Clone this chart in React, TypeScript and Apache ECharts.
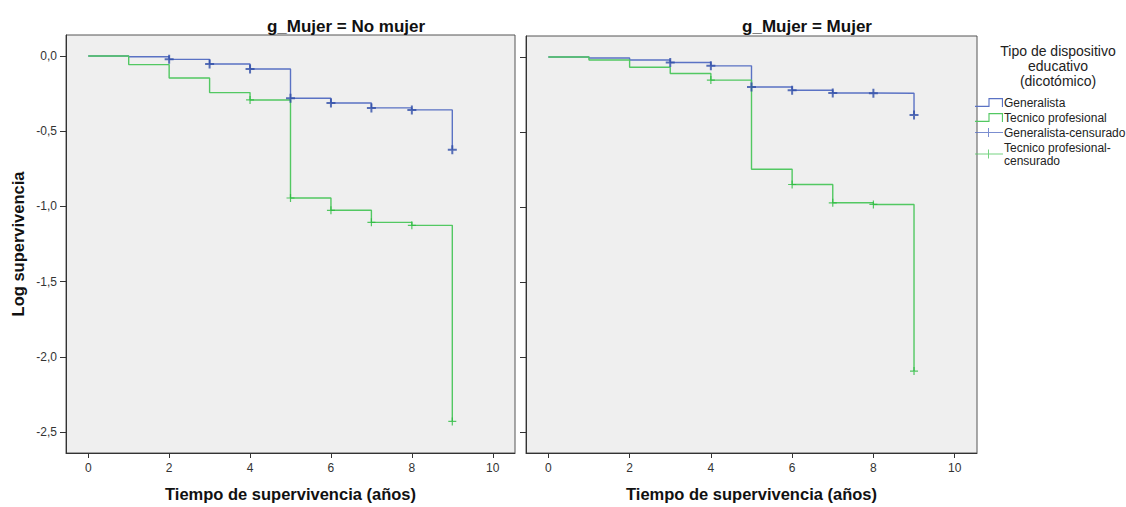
import React, { useEffect, useRef } from "react";
import * as echarts from "echarts";

// ---- data ----
const times = [0, 1, 2, 3, 4, 5, 6, 7, 8, 9];
const leftGeneralista = [0, -0.005, -0.022, -0.053, -0.086, -0.281, -0.312, -0.345, -0.358, -0.624];
const leftTecnico = [0, -0.057, -0.146, -0.243, -0.292, -0.944, -1.026, -1.106, -1.126, -2.43];
const rightGeneralista = [0, -0.007, -0.02, -0.037, -0.059, -0.2, -0.222, -0.24, -0.242, -0.387];
const rightTecnico = [0, -0.02, -0.068, -0.11, -0.154, -0.748, -0.85, -0.972, -0.983, -2.094];

const leftGenCensorTimes = [2, 3, 4, 5, 6, 7, 8, 9];
const leftTecCensorTimes = [4, 5, 6, 7, 8, 9];
const rightGenCensorTimes = [3, 4, 5, 6, 7, 8, 9];
const rightTecCensorTimes = [4, 6, 7, 8, 9];

const xTicks = [0, 2, 4, 6, 8, 10];
const yTicks = [0, -0.5, -1, -1.5, -2, -2.5];

const panelTitles = ["g_Mujer = No mujer", "g_Mujer = Mujer"];
const seriesNames = ["Generalista", "Tecnico profesional", "Generalista-censurado", "Tecnico profesional-censurado"];
const legendTitle = "Tipo de dispositivo\neducativo\n(dicotómico)";
const xTitle = "Tiempo de supervivencia (años)";
const yTitle = "Log supervivencia";

const BLUE_LINE = "#5a72c4";
const BLUE_MARK = "#2f4ea8";
const GREEN_LINE = "#52c862";
const GREEN_MARK = "#2bbb3f";

const FONT = "'Liberation Sans', Arial, sans-serif";

const plusBlue = "path://M3.5,0H5.5V3.5H9V5.5H5.5V9H3.5V5.5H0V3.5H3.5Z";
const plusGreen = "path://M3.4,0H4.6V3.4H8V4.6H4.6V8H3.4V4.6H0V3.4H3.4Z";
const stepIcon = "path://M0,7H12V0H25V8H24V1H13V8H0Z";
const plusIcon = "path://M0,4H28V5H0Z M13,0H14V9H13Z";

const line = (vals: number[]) => times.map((t, i) => [t, vals[i]]);
const censor = (cts: number[], vals: number[]) => cts.map((t) => [t, vals[times.indexOf(t)]]);

export default function App() {
  const ref = useRef<HTMLDivElement>(null);
  useEffect(() => {
    if (!ref.current) return;
    const chart = echarts.init(ref.current, undefined, { renderer: "svg" });
    const fmt = (v: number) => v.toFixed(1).replace(".", ",");
    const grids = [
      { left: 66, top: 35, width: 449, height: 419 },
      { left: 526, top: 36, width: 451, height: 420 },
    ];
    const xAxis = grids.map((_, i) => ({
      type: "value",
      gridIndex: i,
      min: -0.55,
      max: 10.55,
      name: xTitle,
      nameLocation: "middle",
      nameGap: 32,
      nameTextStyle: { fontFamily: FONT, fontSize: 16.5, fontWeight: "bold", color: "#111" },
      axisLine: { show: true, onZero: false, lineStyle: { color: "#333", width: 1 } },
      axisTick: { show: true, length: 5, customValues: xTicks, lineStyle: { color: "#333" } },
      axisLabel: { show: true, customValues: xTicks, margin: 9, fontFamily: FONT, fontSize: 12, color: "#333" },
      splitLine: { show: false },
    }));
    const yAxis = grids.map((_, i) => ({
      type: "value",
      gridIndex: i,
      min: -2.64,
      max: 0.14,
      name: i === 0 ? yTitle : "",
      nameLocation: "middle",
      nameRotate: 90,
      nameGap: 40,
      nameTextStyle: { fontFamily: FONT, fontSize: 16.5, fontWeight: "bold", color: "#111" },
      axisLine: { show: true, onZero: false, lineStyle: { color: "#333", width: 1 } },
      axisTick: { show: true, length: 6, customValues: yTicks, lineStyle: { color: "#333" } },
      axisLabel: {
        show: i === 0,
        customValues: yTicks,
        margin: 9,
        fontFamily: FONT,
        fontSize: 12,
        color: "#333",
        formatter: (v: number) => fmt(v),
      },
      splitLine: { show: false },
    }));
    const panels = [
      { gen: leftGeneralista, tec: leftTecnico, genC: leftGenCensorTimes, tecC: leftTecCensorTimes },
      { gen: rightGeneralista, tec: rightTecnico, genC: rightGenCensorTimes, tecC: rightTecCensorTimes },
    ];
    const series: any[] = [];
    panels.forEach((p, i) => {
      series.push({
        name: seriesNames[0], type: "line", step: "end", xAxisIndex: i, yAxisIndex: i,
        data: line(p.gen), showSymbol: false, color: BLUE_LINE,
        lineStyle: { color: BLUE_LINE, width: 1.4 }, z: 2,
      });
      series.push({
        name: seriesNames[1], type: "line", step: "end", xAxisIndex: i, yAxisIndex: i,
        data: line(p.tec), showSymbol: false, color: GREEN_LINE,
        lineStyle: { color: GREEN_LINE, width: 1.4 }, z: 3,
      });
      series.push({
        name: seriesNames[3], type: "scatter", xAxisIndex: i, yAxisIndex: i,
        data: censor(p.tecC, p.tec), symbol: plusGreen, symbolSize: 8, color: GREEN_MARK,
        itemStyle: { color: GREEN_MARK }, z: 4,
      });
      series.push({
        name: seriesNames[2], type: "scatter", xAxisIndex: i, yAxisIndex: i,
        data: censor(p.genC, p.gen), symbol: plusBlue, symbolSize: 9, color: BLUE_MARK,
        itemStyle: { color: BLUE_MARK }, z: 5,
      });
    });
    chart.setOption({
      animation: false,
      backgroundColor: "#ffffff",
      title: [
        {
          text: panelTitles[0], left: 341, top: 13, textAlign: "center",
          textStyle: { fontFamily: FONT, fontSize: 17, fontWeight: "bold", color: "#111" },
        },
        {
          text: panelTitles[1], left: 802, top: 13, textAlign: "center",
          textStyle: { fontFamily: FONT, fontSize: 17, fontWeight: "bold", color: "#111" },
        },
        {
          text: legendTitle, left: 1053, top: 38, textAlign: "center",
          textStyle: { fontFamily: FONT, fontSize: 14, fontWeight: "normal", color: "#222", lineHeight: 15 },
        },
      ],
      legend: {
        orient: "vertical",
        left: 975,
        top: 96,
        padding: 0,
        itemWidth: 28,
        itemHeight: 9,
        itemGap: 2,
        selectedMode: false,
        textStyle: { fontFamily: FONT, fontSize: 12, color: "#222", lineHeight: 13, padding: [0, 0, 0, -4] },
        formatter: (n: string) => (n === seriesNames[3] ? "Tecnico profesional-\ncensurado" : n),
        data: [
          { name: seriesNames[0], icon: stepIcon, itemStyle: { color: BLUE_LINE } },
          { name: seriesNames[1], icon: stepIcon, itemStyle: { color: GREEN_LINE } },
          { name: seriesNames[2], icon: plusIcon, itemStyle: { color: BLUE_LINE } },
          { name: seriesNames[3], icon: plusIcon, itemStyle: { color: GREEN_LINE } },
        ],
      },
      grid: grids.map((g) => ({
        ...g,
        show: true,
        backgroundColor: "#efefef",
        borderColor: "#555",
        borderWidth: 1,
      })),
      xAxis,
      yAxis,
      series,
    });
    return () => chart.dispose();
  }, []);
  return (
    <div
      ref={ref}
      style={{ position: "fixed", left: 0, top: 0, width: 1126, height: 507, background: "#fff" }}
    />
  );
}
